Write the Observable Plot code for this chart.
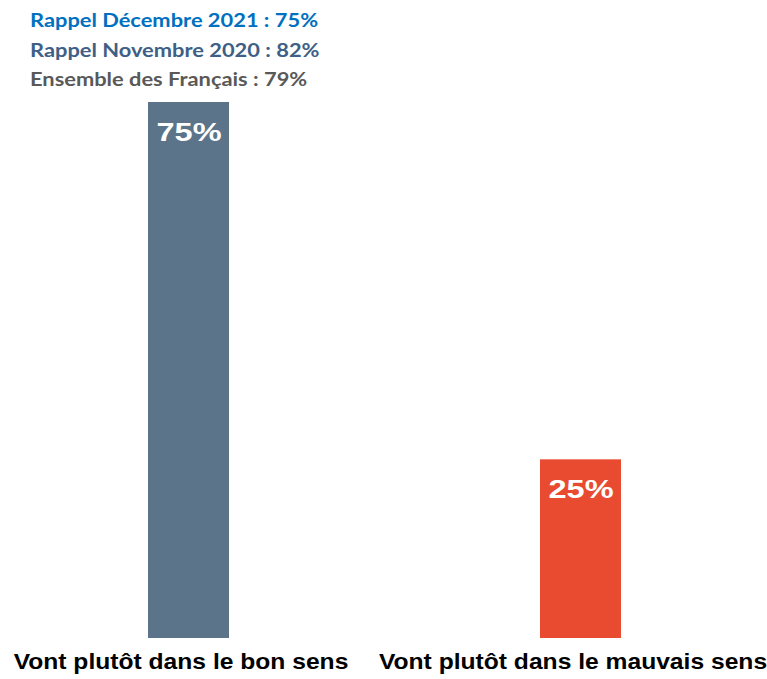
<!DOCTYPE html>
<html>
<head>
<meta charset="utf-8">
<script src="https://cdn.jsdelivr.net/npm/d3@7"></script>
<script src="https://cdn.jsdelivr.net/npm/@observablehq/plot@0.6"></script>
<style>
  html, body { margin: 0; padding: 0; background: #fff; }
  #wrap { position: relative; width: 767px; height: 679px; }
  #header { position: absolute; left: 30px; top: 6px; font-family: Lato, "Open Sans", sans-serif; font-weight: 700; font-size: 18px; line-height: 29.5px; z-index: 2; transform-origin: 0 0; }
  #header div { white-space: nowrap; }
</style>
</head>
<body>
<div id="wrap">
  <div id="header"></div>
  <div id="chart"></div>
</div>
<script>
const categories = ["Vont plutôt dans le bon sens", "Vont plutôt dans le mauvais sens"];
const values = [75, 25];
const barColors = ["#5B7489", "#E94B30"];
const headerLines = ["Rappel Décembre 2021 : 75%", "Rappel Novembre 2020 : 82%", "Ensemble des Français : 79%"];
const headerColors = ["#0070C0", "#3E6086", "#595959"];

const header = document.getElementById("header");
headerLines.forEach((t, i) => {
  const d = document.createElement("div");
  d.textContent = t;
  d.style.color = headerColors[i];
  d.style.display = "table";
  header.appendChild(d);
});
// stretch header horizontally like the reference (wide rendering)
const firstW = header.firstChild.getBoundingClientRect().width;
header.style.transform = `scaleX(${(288 / firstW).toFixed(3)})`;

const data = categories.map((c, i) => ({category: c, value: values[i], label: values[i] + "%"}));

const chart = Plot.plot({
  width: 767,
  height: 679,
  marginTop: 102,
  marginBottom: 41,
  marginLeft: 2,
  marginRight: 0,
  x: {domain: categories, paddingInner: 0.794, paddingOuter: 0.372, axis: null},
  y: {domain: [0, 75], axis: null},
  color: {domain: categories, range: barColors},
  style: {fontFamily: "'Liberation Sans', Arial, sans-serif"},
  marks: [
    Plot.barY(data, {x: "category", y: "value", fill: "category"}),
    Plot.text(data, {x: "category", y: "value", text: "label", fill: "white", fontSize: 26, fontWeight: "bold", dy: 30, lineAnchor: "middle"}),
    Plot.axisX({domain: categories, tickSize: 0, tickPadding: 15, fontSize: 22, fontWeight: "bold", fill: "black", dx: -8, label: null})
  ]
});
document.getElementById("chart").appendChild(chart);

// horizontally stretch the text glyphs (reference is rendered wide)
function stretch(selector, s) {
  chart.querySelectorAll(selector).forEach(t => {
    const tr = t.getAttribute("transform");
    if (tr) {
      t.setAttribute("transform", tr + ` scale(${s},1)`);
    } else {
      const x = +t.getAttribute("x") || 0;
      t.setAttribute("transform", `translate(${x},0) scale(${s},1)`);
      t.setAttribute("x", 0);
    }
  });
}
stretch("g[aria-label='text'] text", 1.25);
stretch("g[aria-label='x-axis tick label'] text", 1.12);
</script>
</body>
</html>
